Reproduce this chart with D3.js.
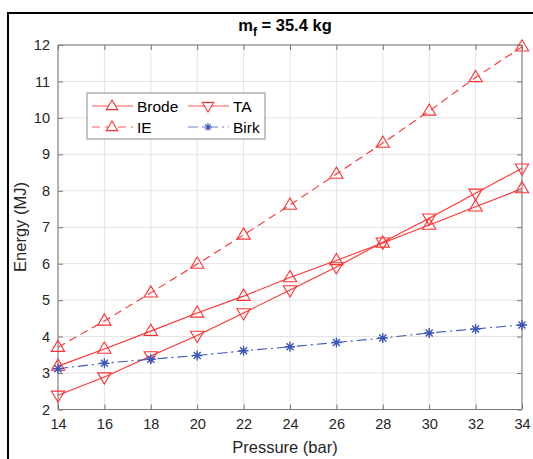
<!DOCTYPE html>
<html><head><meta charset="utf-8">
<script src="https://cdn.jsdelivr.net/npm/d3@7"></script>
<style>body{margin:0;background:#fff}svg{display:block;font-family:"Liberation Sans",Arial,Helvetica,sans-serif}</style>
</head><body>
<script>
const pressure = [14,16,18,20,22,24,26,28,30,32,34];
const brode = [3.19,3.66,4.15,4.65,5.11,5.62,6.09,6.57,7.06,7.56,8.06];
const ta    = [2.39,2.89,3.47,4.03,4.65,5.28,5.91,6.59,7.25,7.93,8.62];
const ie    = [3.71,4.43,5.20,5.99,6.79,7.61,8.46,9.31,10.19,11.11,11.95];
const birk  = [3.12,3.27,3.38,3.48,3.61,3.72,3.84,3.96,4.10,4.21,4.32];
const xTicks = [14,16,18,20,22,24,26,28,30,32,34];
const yTicks = [2,3,4,5,6,7,8,9,10,11,12];
const seriesNames = ["Brode","TA","IE","Birk"];

const W=533,H=459;
const svg=d3.select("body").append("svg").attr("width",W).attr("height",H);
// outer figure frame (cropped)
svg.append("rect").attr("x",8).attr("y",13).attr("width",W+20).attr("height",H+20)
  .attr("fill","none").attr("stroke","#000").attr("stroke-width",2);

const L=58,R=522,T=45,B=409.5;
const x=d3.scaleLinear().domain([14,34]).range([L,R]);
const y=d3.scaleLinear().domain([2,12]).range([B,T]);

const g=svg.append("g");
// grid
g.selectAll(".gx").data(xTicks).join("line").attr("x1",d=>x(d)).attr("x2",d=>x(d))
  .attr("y1",T).attr("y2",B).attr("stroke","#e3e3e3").attr("stroke-width",1);
g.selectAll(".gy").data(yTicks).join("line").attr("y1",d=>y(d)).attr("y2",d=>y(d))
  .attr("x1",L).attr("x2",R).attr("stroke","#e3e3e3").attr("stroke-width",1);

// axes
const ax=d3.axisBottom(x).tickValues(xTicks).tickSize(-5).tickPadding(9);
const ay=d3.axisLeft(y).tickValues(yTicks).tickSize(-5).tickPadding(8);
const axT=d3.axisTop(x).tickValues(xTicks).tickSize(-5).tickFormat("");
const ayR=d3.axisRight(y).tickValues(yTicks).tickSize(-5).tickFormat("");
function style(sel){sel.select(".domain").attr("stroke","#777");sel.selectAll(".tick line").attr("stroke","#777");
  sel.selectAll("text").attr("fill","#262626").style("font-size","14.5px").style("font-family",'"Liberation Sans",Arial,sans-serif');}
g.append("g").attr("transform",`translate(0,${B})`).call(ax).call(style).call(s=>s.select(".domain").attr("d",`M${L},0H${R}`));
g.append("g").attr("transform",`translate(${L},0)`).call(ay).call(style).call(s=>s.select(".domain").attr("d",`M0,${T}V${B}`));
g.append("g").attr("transform",`translate(0,${T})`).call(axT).call(style).call(s=>s.select(".domain").attr("d",`M${L},0H${R}`));
g.append("g").attr("transform",`translate(${R},0)`).call(ayR).call(style).call(s=>s.select(".domain").attr("d",`M0,${T}V${B}`));

const red="#ff3333", blue="#3a56b8";
const line=d3.line().x(d=>x(d[0])).y(d=>y(d[1]));
const zip=v=>pressure.map((p,i)=>[p,v[i]]);

function triUp(cx,cy,s){return `M${cx},${cy-s}L${cx+s*0.95},${cy+s*0.6}L${cx-s*0.95},${cy+s*0.6}Z`;}
function triDown(cx,cy,s){return `M${cx},${cy+s}L${cx+s*0.95},${cy-s*0.6}L${cx-s*0.95},${cy-s*0.6}Z`;}
function star(cx,cy,s){let d="";for(let k=0;k<4;k++){const a=k*Math.PI/4;d+=`M${cx-s*Math.cos(a)},${cy-s*Math.sin(a)}L${cx+s*Math.cos(a)},${cy+s*Math.sin(a)}`;}return d;}

const series=[
 {name:seriesNames[0],vals:brode,color:red,dash:null,marker:triUp},
 {name:seriesNames[1],vals:ta,color:red,dash:null,marker:triDown},
 {name:seriesNames[2],vals:ie,color:red,dash:"8,5",marker:triUp},
 {name:seriesNames[3],vals:birk,color:blue,dash:"10,4,2,4",marker:star},
];
series.forEach(s=>{
  g.append("path").datum(zip(s.vals)).attr("d",line).attr("fill","none").attr("stroke",s.color)
   .attr("stroke-width",1.1).attr("stroke-dasharray",s.dash);
  g.selectAll(null).data(zip(s.vals)).join("path")
   .attr("d",d=>s.marker(x(d[0]),y(d[1]),s.marker===star?5:7))
   .attr("fill","none").attr("stroke",s.color).attr("stroke-width",s.marker===star?1.4:1.1);
});

// legend
const lg=svg.append("g");
lg.append("rect").attr("x",87).attr("y",93).attr("width",178).attr("height",46)
  .attr("fill","#fff").attr("stroke","#888").attr("stroke-width",1);
const pos=[[92,106],[188,106],[92,127],[188,127]];
series.forEach((s,i)=>{
  const [lx,ly]=pos[i];
  const c = s.color===red?"#ff5555":"#6f86cc";
  lg.append("line").attr("x1",lx).attr("x2",lx+41).attr("y1",ly).attr("y2",ly)
    .attr("stroke",c).attr("stroke-width",1.1).attr("stroke-dasharray",s.dash);
  lg.append("path").attr("d",s.marker(lx+20,ly,s.marker===star?4:6)).attr("fill","#fff").attr("stroke",s.color).attr("stroke-width",1.1);
  lg.append("text").attr("x",lx+45).attr("y",ly+5.5).text(s.name).attr("fill","#000").style("font-size","15.5px");
});

// title
const t=svg.append("text").attr("x",285).attr("y",31).attr("text-anchor","middle")
  .style("font-size","16.5px").style("font-weight","bold").attr("fill","#000");
t.append("tspan").text("m");
t.append("tspan").text("f").attr("dy",4.5).style("font-size","12px");
t.append("tspan").text(" = 35.4 kg").attr("dy",-4.5);

// axis labels
svg.append("text").attr("x",285).attr("y",453).attr("text-anchor","middle").style("font-size","16.5px").attr("fill","#262626").text("Pressure (bar)");
svg.append("text").attr("transform","translate(26,227) rotate(-90)").attr("text-anchor","middle").style("font-size","16.5px").attr("fill","#262626").text("Energy (MJ)");
</script>
</body></html>
